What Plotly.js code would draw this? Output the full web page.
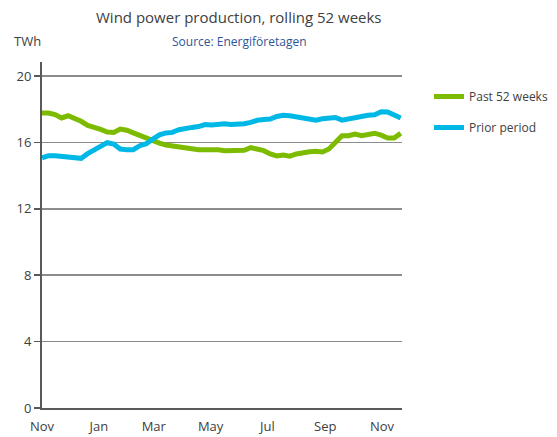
<!DOCTYPE html>
<html>
<head>
<meta charset="utf-8">
<script src="https://cdn.plot.ly/plotly-3.0.1.min.js"></script>
<style>
  html, body { margin: 0; padding: 0; background: #fff; }
  #chart { width: 557px; height: 437px; }
</style>
</head>
<body>
<div id="chart"></div>
<script>
// Week index since start of rolling window (0 = early November)
const weeks = Array.from({length: 56}, (_, i) => i);

const past52 = [17.77, 17.77, 17.67, 17.47, 17.6, 17.47, 17.27, 17.02, 16.93, 16.78,
  16.62, 16.6, 16.8, 16.73, 16.57, 16.4, 16.28, 16.12, 15.95, 15.84,
  15.78, 15.76, 15.72, 15.6, 15.56, 15.56, 15.58, 15.56, 15.5, 15.52,
  15.52, 15.52, 15.68, 15.6, 15.5, 15.3, 15.18, 15.24, 15.17, 15.3,
  15.38, 15.43, 15.46, 15.42, 15.6, 16.04, 16.4, 16.4, 16.5, 16.4,
  16.48, 16.55, 16.43, 16.26, 16.26, 16.55];

const priorPeriod = [15.06, 15.2, 15.2, 15.16, 15.14, 15.1, 15.04, 15.32, 15.52, 15.72,
  15.98, 15.9, 15.6, 15.56, 15.56, 15.8, 15.92, 16.2, 16.45, 16.57,
  16.6, 16.76, 16.86, 16.9, 16.95, 17.07, 17.04, 17.1, 17.12, 17.07,
  17.07, 17.12, 17.2, 17.33, 17.37, 17.4, 17.56, 17.63, 17.6, 17.52,
  17.46, 17.4, 17.33, 17.42, 17.48, 17.5, 17.34, 17.43, 17.5, 17.56,
  17.63, 17.66, 17.84, 17.83, 17.68, 17.47];

const tickWeeks = [0, 8.71, 17.14, 25.86, 34.57, 43.43, 52.14];
const tickLabels = ["Nov", "Jan", "Mar", "May", "Jul", "Sep", "Nov"];
const yTicks = [0, 4, 8, 12, 16, 20];

const traces = [
  { x: weeks, y: past52, name: "Past 52 weeks", type: "scatter", mode: "lines",
    legendgroup: "a", line: { color: "#7DBB00", width: 5, shape: "linear" } },
  { x: weeks, y: priorPeriod, name: "Prior period", type: "scatter", mode: "lines",
    legendgroup: "b", line: { color: "#00B8E6", width: 5, shape: "linear" } }
];

const layout = {
  width: 557, height: 437,
  margin: { l: 42, r: 155, t: 62, b: 29, autoexpand: false },
  paper_bgcolor: "#ffffff", plot_bgcolor: "#ffffff",
  font: { family: "Open Sans, sans-serif", color: "#404040", size: 13 },
  showlegend: true,
  legend: {
    xref: "container", yref: "container",
    x: 429 / 557, y: 1 - 82 / 437, xanchor: "left", yanchor: "top",
    font: { size: 12, color: "#404040" }, traceorder: "grouped",
    itemwidth: 30, tracegroupgap: 12, bgcolor: "rgba(0,0,0,0)"
  },
  xaxis: {
    range: [0, 55.2], tickmode: "array", tickvals: tickWeeks, ticktext: tickLabels,
    showgrid: false, zeroline: false, showline: true, linecolor: "#595959", linewidth: 2,
    ticks: "", ticklabelstandoff: 5, tickfont: { size: 13, color: "#404040" }, fixedrange: true
  },
  yaxis: {
    range: [0, 20.84], tickmode: "array", tickvals: yTicks,
    showgrid: true, gridcolor: "#8c8c8c", gridwidth: 1.5,
    zeroline: false, showline: true, linecolor: "#595959", linewidth: 2,
    ticks: "outside", ticklen: 6, tickcolor: "#595959", tickwidth: 1.5,
    tickfont: { size: 13, color: "#404040" }, fixedrange: true
  },
  annotations: [
    { text: "Wind power production, rolling 52 weeks", xref: "paper", yref: "paper",
      x: (239 - 42) / 360, xanchor: "center", y: 1, yanchor: "bottom", yshift: 33,
      showarrow: false, font: { size: 15, color: "#404040" } },
    { text: "Source: Energiföretagen", xref: "paper", yref: "paper",
      x: (239 - 42) / 360, xanchor: "center", y: 1, yanchor: "bottom", yshift: 10,
      showarrow: false, font: { size: 12, color: "#2F5597" } },
    { text: "TWh", xref: "paper", yref: "paper",
      x: -30 / 360, xanchor: "left", y: 1, yanchor: "bottom", yshift: 10,
      showarrow: false, font: { size: 13, color: "#404040" } }
  ]
};

Plotly.newPlot("chart", traces, layout, { displayModeBar: false, staticPlot: true });
</script>
</body>
</html>
